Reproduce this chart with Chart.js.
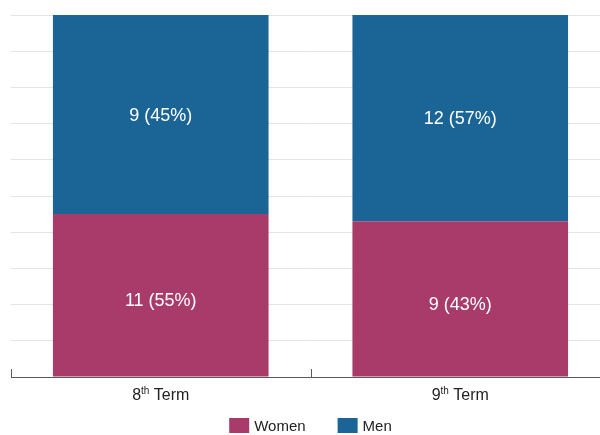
<!DOCTYPE html>
<html>
<head>
<meta charset="utf-8">
<script src="https://cdn.jsdelivr.net/npm/chart.js@4/dist/chart.umd.min.js"></script>
<style>
html,body{margin:0;padding:0;overflow:hidden;background:#fff;}
#wrap{width:610px;height:435px;position:relative;}
</style>
</head>
<body>
<div id="wrap"><canvas id="c"></canvas></div>
<script>
// Categories: ordinal number, superscript suffix, and word
const termNumbers = ["8", "9"];
const termSuffixes = ["th", "th"];
const termWord = "Term";
const categories = ["8th Term", "9th Term"];

// Drawn bar shares (percent of bar height)
const womenValues = [45, 43];
const menValues = [55, 57];

// Text shown inside the bars
const womenLabels = ["11 (55%)", "9 (43%)"];
const menLabels = ["9 (45%)", "12 (57%)"];

const seriesNames = ["Women", "Men"];

const FONT = "'Liberation Sans', Arial, sans-serif";

const innerLabels = {
  id: 'innerLabels',
  afterDatasetsDraw(chart) {
    const ctx = chart.ctx;
    const all = [womenLabels, menLabels];
    const offs = [6, 1];
    ctx.save();
    ctx.fillStyle = '#ffffff';
    ctx.font = '18px ' + FONT;
    ctx.textAlign = 'center';
    ctx.textBaseline = 'middle';
    chart.data.datasets.forEach((ds, di) => {
      chart.getDatasetMeta(di).data.forEach((el, i) => {
        const y = (el.y + el.base) / 2 + offs[di];
        ctx.fillText(all[di][i], el.x, y);
      });
    });
    ctx.restore();
  }
};

const xAxisDecor = {
  id: 'xAxisDecor',
  afterDraw(chart) {
    const ctx = chart.ctx;
    const xs = chart.scales.x;
    const area = chart.chartArea;
    const n = chart.data.labels.length;
    const p0 = xs.getPixelForValue(0);
    const p1 = xs.getPixelForValue(1);
    const step = p1 - p0;
    ctx.save();
    // upward tick marks between categories
    ctx.strokeStyle = '#5a5a5a';
    ctx.lineWidth = 1;
    for (let i = 0; i <= n; i++) {
      const x = Math.round(p0 - step / 2 + i * step) + 0.5;
      ctx.beginPath();
      ctx.moveTo(x, area.bottom - 8);
      ctx.lineTo(x, area.bottom);
      ctx.stroke();
    }
    // category labels with superscript suffix
    ctx.fillStyle = '#222222';
    ctx.textBaseline = 'alphabetic';
    ctx.textAlign = 'left';
    const baseY = area.bottom + 23;
    for (let i = 0; i < n; i++) {
      const cx = xs.getPixelForValue(i);
      ctx.font = '16px ' + FONT;
      const wNum = ctx.measureText(termNumbers[i]).width;
      const wWord = ctx.measureText(' ' + termWord).width;
      ctx.font = '10px ' + FONT;
      const wSup = ctx.measureText(termSuffixes[i]).width;
      let x = cx - (wNum + wSup + wWord) / 2;
      ctx.font = '16px ' + FONT;
      ctx.fillText(termNumbers[i], x, baseY);
      x += wNum;
      ctx.font = '10px ' + FONT;
      ctx.fillText(termSuffixes[i], x, baseY - 6);
      x += wSup;
      ctx.font = '16px ' + FONT;
      ctx.fillText(' ' + termWord, x, baseY);
    }
    // legend
    const ds = chart.data.datasets;
    ctx.font = '15px ' + FONT;
    const boxW = 20, boxH = 15, gapText = 5, gapItem = 32;
    let total = 0;
    ds.forEach((d, i) => {
      total += boxW + gapText + ctx.measureText(d.label).width;
      if (i < ds.length - 1) total += gapItem;
    });
    let lx = (area.left + area.right) / 2 - total / 2;
    const ly = 418;
    ctx.textBaseline = 'middle';
    ds.forEach((d) => {
      ctx.fillStyle = d.backgroundColor;
      ctx.fillRect(lx, ly, boxW, boxH);
      lx += boxW + gapText;
      ctx.fillStyle = '#222222';
      ctx.fillText(d.label, lx, ly + boxH / 2 + 1);
      lx += ctx.measureText(d.label).width + gapItem;
    });
    ctx.restore();
  }
};

new Chart(document.getElementById('c'), {
  type: 'bar',
  data: {
    labels: categories,
    datasets: [
      { label: seriesNames[0], data: womenValues, backgroundColor: '#a93b6a', borderWidth: 0 },
      { label: seriesNames[1], data: menValues, backgroundColor: '#1b6596', borderWidth: 0 }
    ]
  },
  options: {
    responsive: true,
    maintainAspectRatio: false,
    animation: false,
    layout: { padding: { top: 15, left: 11, right: 0, bottom: 22 } },
    datasets: { bar: { categoryPercentage: 1.0, barPercentage: 0.72 } },
    plugins: {
      legend: { display: false },
      tooltip: { enabled: false }
    },
    scales: {
      x: {
        stacked: true,
        grid: { display: false, drawTicks: false },
        border: { display: true, color: '#5a5a5a', width: 1 },
        ticks: { display: false },
        afterFit: s => { s.height = 36; }
      },
      y: {
        stacked: true,
        min: 0, max: 100,
        ticks: { display: false, stepSize: 10 },
        grid: { color: '#e4e4e4', lineWidth: 1, drawTicks: false },
        border: { display: false },
        afterFit: s => { s.width = 0; }
      }
    }
  },
  plugins: [innerLabels, xAxisDecor]
});
</script>
</body>
</html>
